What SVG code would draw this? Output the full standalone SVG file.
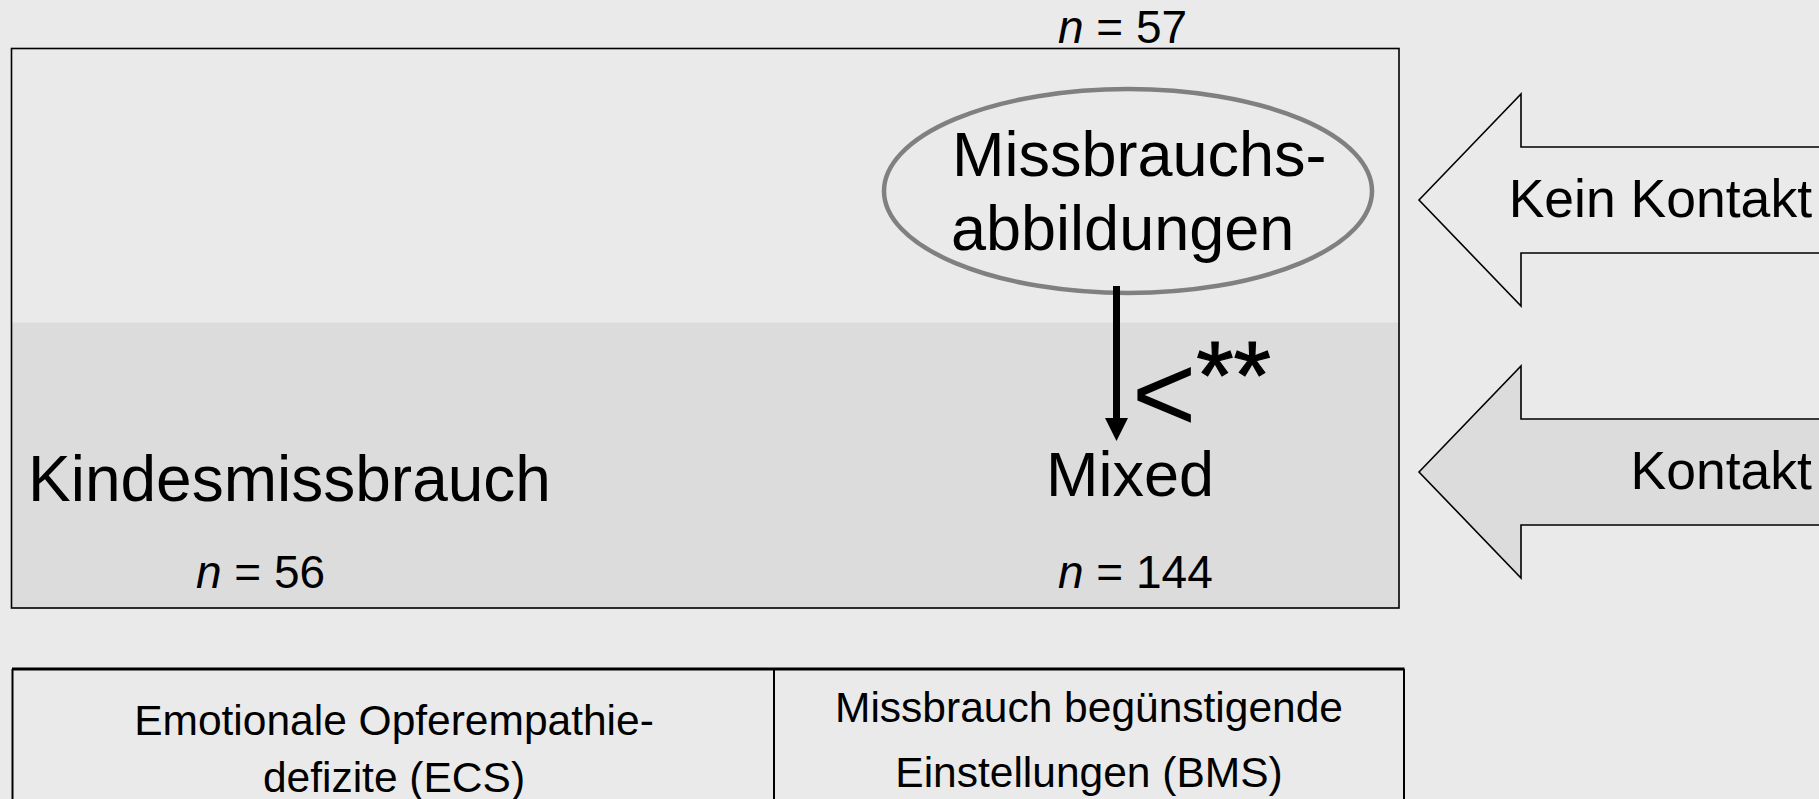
<svg xmlns="http://www.w3.org/2000/svg" width="1819" height="799" viewBox="0 0 1819 799">
<style>
text { font-family: "Liberation Sans", Arial, sans-serif; fill: #000; }
.big { font-size: 63px; }
.n { font-size: 46px; }
.side { font-size: 53.5px; }
.tab { font-size: 42.5px; }
.frame { fill: none; stroke: #000; stroke-width: 1.6; }
.arrowshape { stroke: #000; stroke-width: 1.6; }
</style>
<rect x="0" y="0" width="1819" height="799" fill="#eaeaea"/>
<g id="panel">
  <rect x="11.5" y="48.5" width="1387.5" height="559.5" fill="#eaeaea"/>
  <rect x="11.5" y="322.5" width="1387.5" height="285.5" fill="#dcdcdc"/>
  <rect class="frame" x="11.5" y="48.5" width="1387.5" height="559.5"/>
</g>
<g id="n57"><text class="n" x="1058" y="43"><tspan font-style="italic">n</tspan> = 57</text></g>
<g id="node-missbrauchsabbildungen">
  <ellipse cx="1128" cy="191" rx="244" ry="102" fill="none" stroke="#808080" stroke-width="4.5"/>
  <text class="big" x="952" y="176">Missbrauchs-</text>
  <text class="big" x="951" y="250">abbildungen</text>
</g>
<g id="connectors">
  <line x1="1116.5" y1="286" x2="1116.5" y2="420" stroke="#000" stroke-width="7"/>
  <polygon points="1105,418 1128,418 1116.5,441" fill="#000"/>
  <text x="1132" y="431"><tspan font-size="110">&lt;</tspan><tspan font-size="96" dx="0" dy="-23" stroke="#000" stroke-width="1.2">**</tspan></text>
</g>
<g id="node-mixed">
  <text class="big" x="1046" y="496">Mixed</text>
  <text class="n" x="1058" y="588"><tspan font-style="italic">n</tspan> = 144</text>
</g>
<g id="node-kindesmissbrauch">
  <text x="28" y="501" font-size="64">Kindesmissbrauch</text>
  <text class="n" x="196" y="588"><tspan font-style="italic">n</tspan> = 56</text>
</g>
<g id="arrow-kein-kontakt">
  <polygon class="arrowshape" points="1419,200 1521,94 1521,147 1830,147 1830,253 1521,253 1521,306" fill="#eaeaea"/>
  <text class="side" x="1812" y="217" text-anchor="end">Kein Kontakt</text>
</g>
<g id="arrow-kontakt">
  <polygon class="arrowshape" points="1419,472 1521,366 1521,419 1830,419 1830,525 1521,525 1521,578" fill="#dcdcdc"/>
  <text class="side" x="1812" y="489" text-anchor="end">Kontakt</text>
</g>
<g id="table">
  <line x1="12" y1="669" x2="1404.5" y2="669" stroke="#000" stroke-width="3"/>
  <line x1="12.5" y1="669" x2="12.5" y2="800" stroke="#000" stroke-width="2"/>
  <line x1="774" y1="669" x2="774" y2="800" stroke="#000" stroke-width="2"/>
  <line x1="1404" y1="669" x2="1404" y2="800" stroke="#000" stroke-width="2"/>
  <text class="tab" x="394" y="735" text-anchor="middle">Emotionale Opferempathie-</text>
  <text class="tab" x="394" y="792" text-anchor="middle">defizite (ECS)</text>
  <text class="tab" x="1089" y="722" text-anchor="middle">Missbrauch begünstigende</text>
  <text class="tab" x="1089" y="787" text-anchor="middle">Einstellungen (BMS)</text>
</g>
</svg>
